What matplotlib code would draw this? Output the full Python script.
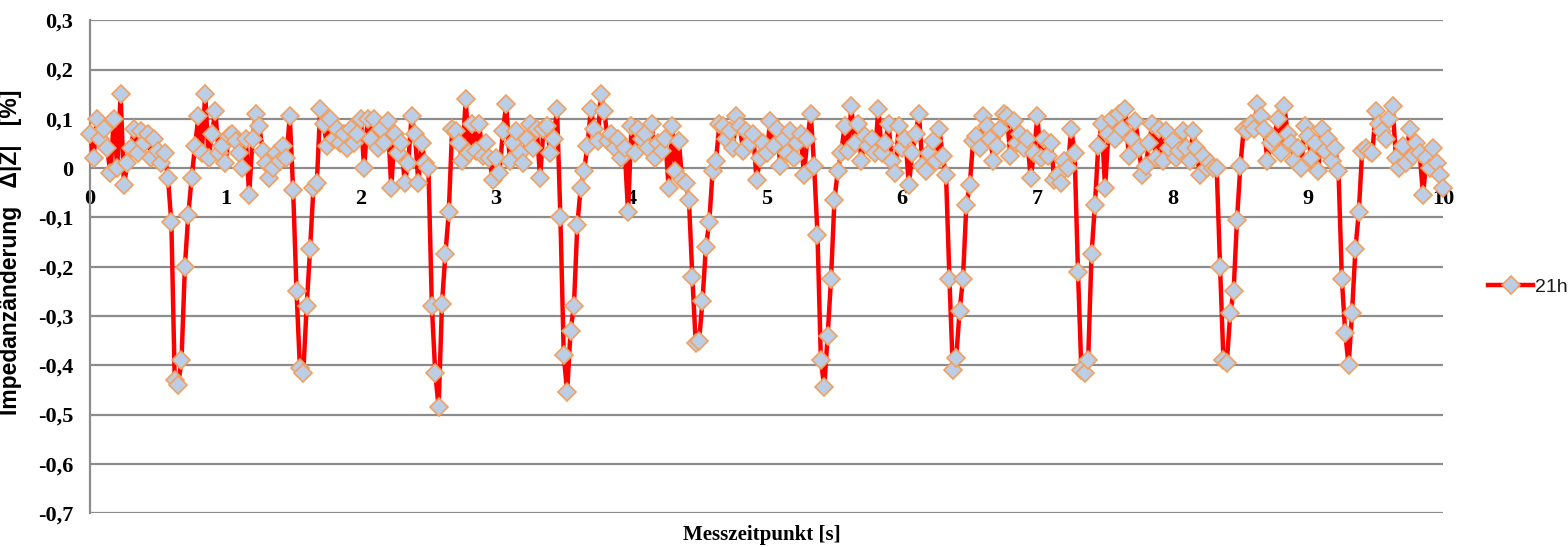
import numpy as np
import matplotlib.pyplot as plt
from matplotlib.ticker import FuncFormatter, MultipleLocator

# Messwerte, Abtastschritt 0.025 s (0 .. 10 s)
dt = 0.025
impedanz_21h = [
    # 0 .. 1 s
    0.07, 0.02, 0.10, 0.06, 0.08, 0.04, -0.01, 0.10, 0.00, 0.15,
    -0.035, 0.01, 0.04, 0.08, 0.03, 0.075, 0.05, 0.07, 0.02, 0.06,
    0.035, 0.01, 0.03, -0.02, -0.11, -0.43, -0.44, -0.39, -0.20, -0.095,
    -0.02, 0.045, 0.105, 0.03, 0.15, 0.02, 0.07, 0.115, 0.03, 0.045,
    # 1 .. 2 s
    0.01, 0.065, 0.07, 0.055, 0.03, 0.00, 0.06, -0.055, 0.06, 0.11,
    0.085, 0.035, 0.01, -0.02, 0.00, 0.03, 0.015, 0.045, 0.02, 0.105,
    -0.045, -0.25, -0.405, -0.415, -0.28, -0.165, -0.04, -0.03, 0.12, 0.09,
    0.045, 0.10, 0.06, 0.08, 0.05, 0.07, 0.04, 0.08, 0.05, 0.07,
    # 2 .. 3 s
    0.10, 0.00, 0.10, 0.06, 0.10, 0.04, 0.08, 0.05, 0.095, -0.04,
    0.07, 0.03, 0.05, -0.03, 0.01, 0.105, 0.07, -0.03, 0.05, 0.01,
    0.00, -0.28, -0.415, -0.485, -0.275, -0.175, -0.09, 0.08, 0.075, 0.05,
    0.015, 0.14, 0.03, 0.09, 0.035, 0.09, 0.025, 0.05, 0.02, -0.025,
    # 3 .. 4 s
    0.02, -0.01, 0.075, 0.13, 0.015, 0.05, 0.075, 0.03, 0.01, 0.06,
    0.09, 0.04, 0.08, -0.02, 0.08, 0.085, 0.03, 0.06, 0.12, -0.10,
    -0.38, -0.455, -0.33, -0.28, -0.115, -0.04, -0.005, 0.045, 0.12, 0.08,
    0.055, 0.15, 0.115, 0.055, 0.07, 0.04, 0.06, 0.02, 0.04, -0.09,
    # 4 .. 5 s
    0.085, 0.03, 0.08, 0.06, 0.07, 0.04, 0.09, 0.02, 0.05, 0.035,
    0.06, -0.04, 0.085, -0.005, 0.055, -0.025, -0.03, -0.065, -0.22, -0.355,
    -0.35, -0.27, -0.16, -0.11, -0.005, 0.015, 0.09, 0.085, 0.06, 0.075,
    0.04, 0.105, 0.085, 0.035, 0.075, 0.05, 0.07, -0.025, 0.02, 0.05,
    # 5 .. 6 s
    0.03, 0.095, 0.045, 0.08, 0.005, 0.06, 0.03, 0.075, 0.02, 0.05,
    0.07, -0.015, 0.06, 0.11, 0.005, -0.135, -0.39, -0.445, -0.34, -0.225,
    -0.065, -0.005, 0.03, 0.085, 0.035, 0.125, 0.05, 0.09, 0.015, 0.065,
    0.045, 0.06, 0.03, 0.12, 0.03, 0.05, 0.09, 0.015, -0.01, 0.085,
    # 6 .. 7 s
    0.04, 0.06, -0.035, 0.03, 0.07, 0.11, 0.005, -0.005, 0.03, 0.055,
    0.015, 0.08, 0.025, -0.015, -0.225, -0.41, -0.385, -0.29, -0.225, -0.075,
    -0.035, 0.055, 0.065, 0.04, 0.105, 0.085, 0.06, 0.015, 0.045, 0.08,
    0.11, 0.105, 0.025, 0.095, 0.05, 0.07, 0.04, 0.06, -0.02, 0.03,
    # 7 .. 8 s
    0.105, 0.02, 0.06, 0.025, 0.05, -0.025, -0.015, -0.03, 0.015, 0.00,
    0.08, 0.03, -0.21, -0.41, -0.415, -0.39, -0.175, -0.075, 0.045, 0.09,
    -0.04, 0.07, 0.10, 0.06, 0.11, 0.08, 0.12, 0.025, 0.06, 0.095,
    0.04, -0.015, 0.005, 0.05, 0.09, 0.02, 0.08, 0.015, 0.075, 0.04,
    # 8 .. 9 s
    0.055, 0.02, 0.035, 0.075, 0.04, 0.015, 0.075, 0.04, -0.015, 0.025,
    0.00, 0.01, 0.00, 0.00, -0.20, -0.39, -0.395, -0.295, -0.25, -0.105,
    0.005, 0.08, 0.075, 0.09, 0.08, 0.13, 0.105, 0.08, 0.015, 0.05,
    0.06, 0.10, 0.03, 0.125, 0.07, 0.05, 0.015, 0.04, 0.00, 0.085,
    # 9 .. 10 s
    0.065, 0.02, 0.05, -0.005, 0.08, 0.035, 0.06, 0.015, 0.04, -0.005,
    -0.225, -0.335, -0.40, -0.295, -0.165, -0.09, 0.035, 0.04, 0.035, 0.03,
    0.115, 0.09, 0.075, 0.06, 0.10, 0.125, 0.02, 0.00, 0.045, 0.01,
    0.08, 0.025, 0.05, 0.03, -0.055, 0.02, 0.00, 0.04, 0.01, -0.015,
    -0.04,
]
zeit = np.arange(len(impedanz_21h)) * dt

x_ticks = [0, 1, 2, 3, 4, 5, 6, 7, 8, 9, 10]
serie_name = "21h"

fig = plt.figure(figsize=(15.68, 5.47), dpi=100)
ax = fig.add_axes([0.0575, 0.062, 0.863, 0.901])

ax.plot(zeit, impedanz_21h, color='#ff0000', lw=3.2, marker='D', ms=9.5,
        mfc='#bccde6', mec='#f0a060', mew=1.2, clip_on=False, zorder=3,
        label=serie_name)

ax.set_xlim(0, 10)
ax.set_ylim(-0.7, 0.3)
ax.yaxis.set_major_locator(MultipleLocator(0.1))
ax.yaxis.set_major_formatter(FuncFormatter(
    lambda v, p: '0' if abs(v) < 1e-9 else f'{v:.1f}'.replace('.', ',')))
ax.set_xticks(x_ticks)
ax.grid(axis='y', color='#8c8c8c', lw=1.6)
ax.set_axisbelow(True)

# x-Achse kreuzt bei 0 (wie in Excel)
ax.spines['bottom'].set_position(('data', 0))
ax.spines['bottom'].set_visible(False)
ax.spines['top'].set_visible(False)
ax.spines['right'].set_visible(False)
ax.spines['left'].set_color('#8c8c8c')
ax.spines['left'].set_linewidth(1.6)
ax.tick_params(length=0)
ax.tick_params(axis='x', pad=15)
ax.tick_params(axis='y', pad=12)
for lab in ax.get_xticklabels() + ax.get_yticklabels():
    lab.set_fontfamily('Liberation Serif')
    lab.set_fontweight('bold')
    lab.set_fontsize(16)

ax.set_ylabel('Impedanzänderung   Δ|Z|   [%]', family='Liberation Sans',
              fontweight='bold', fontsize=16.5)
ax.yaxis.set_label_coords(-0.0505, 0.53)
fig.text(0.486, 0.022, 'Messzeitpunkt [s]', family='Liberation Serif',
         fontweight='bold', fontsize=15, ha='center', va='center')

leg = fig.legend(loc='center left', bbox_to_anchor=(0.938, 0.475), frameon=False,
                 prop={'family': 'Liberation Sans', 'size': 14},
                 handlelength=2.3, handletextpad=0.1)
for t in leg.get_texts():
    t.set_color('#1a1a1a')

plt.savefig('out.png', dpi=100)
